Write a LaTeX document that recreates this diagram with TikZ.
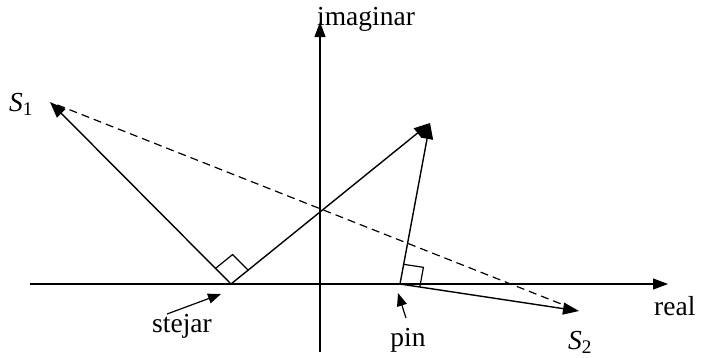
\documentclass[tikz,border=0pt]{standalone}
\usepackage{fontspec}
\setmainfont{Liberation Serif}
\usetikzlibrary{arrows.meta,calc}
\tikzset{
  lbl/.style={inner sep=0pt,font=\fontsize{27.5}{30}\selectfont},
  vec/.style={line width=1.4pt,-{Triangle[length=16pt,width=12pt]}},
  axis/.style={line width=1.2pt,-{Triangle[length=15pt,width=11pt]}},
  ptr/.style={line width=1.2pt,-{Triangle[length=13pt,width=10pt]}},
  rang/.style={line width=1.2pt},
}
\begin{document}
\begin{tikzpicture}[x=1pt,y=-1pt]
\useasboundingbox (0,0) rectangle (701,357);
% coordinates
\coordinate (xl) at (30,284);
\coordinate (xr) at (668,284);
\coordinate (yb) at (320,352);
\coordinate (yt) at (320,22);
\coordinate (st) at (231,284);
\coordinate (pn) at (400,284);
\coordinate (S1) at (50,102);
\coordinate (top) at (430,123);
\coordinate (S2) at (579,311);
% axes
\draw[axis] (xl) -- (xr);
\draw[axis] (yb) -- (yt);
\node[lbl,anchor=west] (im) at (317,19) {imaginar};
\node[lbl,anchor=west] (re) at (654,306) {real};
% vectors
\draw[vec] (st) -- (S1);
\draw[vec] (st) -- (top);
\draw[vec] (pn) -- (top);
\draw[vec] (pn) -- (S2);
% dashed
\draw[line width=1.2pt,dash pattern=on 8pt off 5pt] ($(S1)!8pt!(S2)$) -- ($(S2)!8pt!(S1)$);
% right angle marks
\coordinate (a1) at ($(st)!22pt!(S1)$);
\coordinate (a2) at ($(st)!22pt!(top)$);
\draw[rang] (a1) -- ($(a1)+(a2)-(st)$) -- (a2);
\coordinate (b1) at ($(pn)!20pt!(top)$);
\coordinate (b2) at ($(pn)!20pt!(S2)$);
\draw[rang] (b1) -- ($(b1)+(b2)-(pn)$) -- (b2);
% labels
\node[lbl] (s1l) at (21,104) {\textit{S}\textsubscript{1}};
\node[lbl] (s2l) at (580,342) {\textit{S}\textsubscript{2}};
\node[lbl] (stl) at (182,326) {stejar};
\node[lbl] (pnl) at (408,340) {pin};
\coordinate (stt) at (221,294);
\coordinate (pnt) at (398,293);
\draw[ptr] (167,314) -- (stt);
\draw[ptr] (406,318) -- (pnt);
\end{tikzpicture}
\end{document}
